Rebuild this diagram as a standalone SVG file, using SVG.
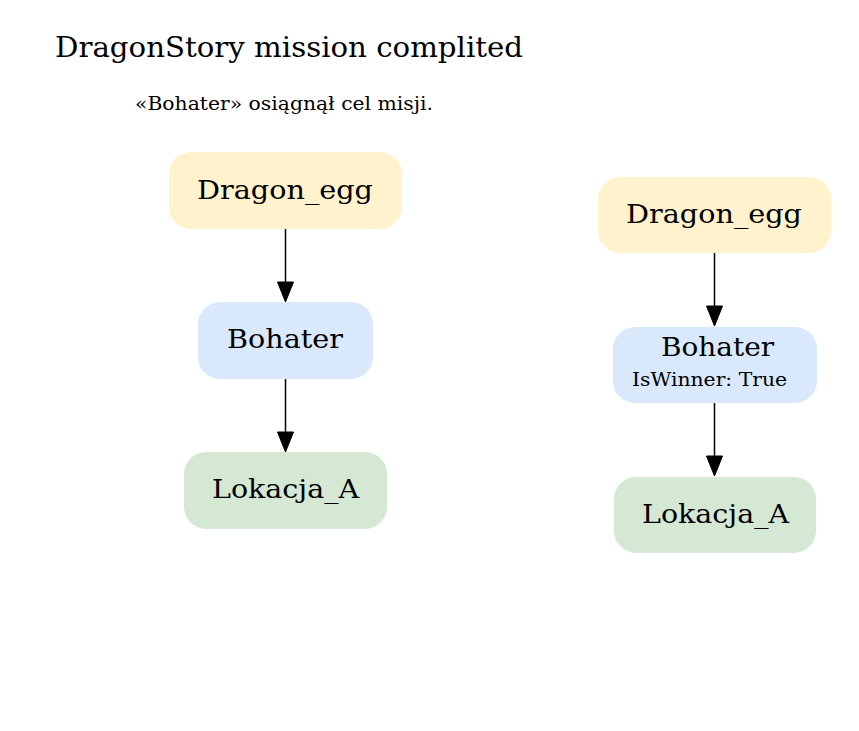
<svg xmlns="http://www.w3.org/2000/svg" width="859" height="731" viewBox="0 0 859 731">
<style>
text{font-family:"DejaVu Serif","Liberation Serif",serif;fill:#000}
.n{font-size:25.5px}
.s{font-size:18px}
.y{fill:#fff2cc}
.b{fill:#dae8fc}
.g{fill:#d5e8d4}
.e{stroke:#000;stroke-width:1.5;fill:none}
.h{fill:#000;stroke:#000}
</style>
<rect width="859" height="731" fill="#fff"/>
<g id="title">
<text x="55" y="57" font-size="27.5" textLength="468" lengthAdjust="spacingAndGlyphs">DragonStory mission complited</text>
<text x="135" y="110" font-size="18" textLength="298" lengthAdjust="spacingAndGlyphs">«Bohater» osiągnął cel misji.</text>
</g>
<g id="L_Dragon_egg"><rect class="y" x="169" y="152" width="233" height="77" rx="22"/><text class="n" x="197" y="199" textLength="176" lengthAdjust="spacingAndGlyphs">Dragon_egg</text></g>
<g id="L_Bohater"><rect class="b" x="198" y="302" width="175" height="77" rx="22"/><text class="n" x="227" y="348" textLength="116" lengthAdjust="spacingAndGlyphs">Bohater</text></g>
<g id="L_Lokacja_A"><rect class="g" x="184" y="452" width="203" height="77" rx="22"/><text class="n" x="212" y="498" textLength="147" lengthAdjust="spacingAndGlyphs">Lokacja_A</text></g>
<g id="R_Dragon_egg"><rect class="y" x="598" y="177" width="233" height="76" rx="22"/><text class="n" x="626" y="223" textLength="176" lengthAdjust="spacingAndGlyphs">Dragon_egg</text></g>
<g id="R_Bohater"><rect class="b" x="613" y="327" width="204" height="76" rx="22"/><text class="n" x="661" y="356" textLength="113" lengthAdjust="spacingAndGlyphs">Bohater</text><text class="s" x="632" y="386" textLength="155" lengthAdjust="spacingAndGlyphs">IsWinner: True</text></g>
<g id="R_Lokacja_A"><rect class="g" x="614" y="477" width="202" height="76" rx="22"/><text class="n" x="642" y="523" textLength="147" lengthAdjust="spacingAndGlyphs">Lokacja_A</text></g>
<g id="edges">
<line class="e" x1="285.5" y1="229" x2="285.5" y2="283"/><polygon class="h" points="277.5,282 293.5,282 285.5,302"/>
<line class="e" x1="285.5" y1="379" x2="285.5" y2="433"/><polygon class="h" points="277.5,432 293.5,432 285.5,452"/>
<line class="e" x1="714.5" y1="253" x2="714.5" y2="307"/><polygon class="h" points="706.5,306 722.5,306 714.5,326"/>
<line class="e" x1="714.5" y1="403" x2="714.5" y2="457"/><polygon class="h" points="706.5,456 722.5,456 714.5,476"/>
</g>
</svg>
